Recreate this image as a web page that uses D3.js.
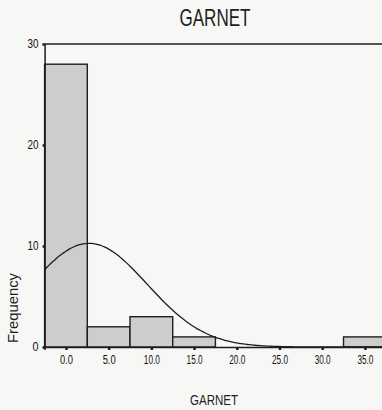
<!DOCTYPE html>
<html><head><meta charset="utf-8">
<script src="https://cdn.jsdelivr.net/npm/d3@7"></script>
<style>html,body{margin:0;padding:0;background:#f7f7f5;overflow:hidden}</style>
</head><body>
<svg id="c" width="382" height="410"></svg>
<script>
const binCenters = [0, 5, 10, 15, 20, 25, 30, 35];
const binCounts  = [28, 2, 3, 1, 0, 0, 0, 1];
const binWidth = 5;
const xTicks = [0, 5, 10, 15, 20, 25, 30, 35];
const yTicks = [0, 10, 20, 30];
const fitMean = 2.7;
const fitSd = 6.8;
const title = "GARNET";
const xLabel = "GARNET";
const yLabel = "Frequency";

const svg = d3.select("#c");
const x = d3.scaleLinear().domain([-2.5, 40]).range([44.6, 407.6]);
const y = d3.scaleLinear().domain([0, 30]).range([347, 44]);
const ink = "#1e1e1e";
const font = "'Liberation Sans', Arial, sans-serif";

// bars
svg.append("g").selectAll("rect").data(binCenters.map((c,i)=>({c, n: binCounts[i]})).filter(d=>d.n>0))
  .join("rect")
  .attr("x", d => x(d.c - binWidth/2))
  .attr("width", d => x(d.c + binWidth/2) - x(d.c - binWidth/2))
  .attr("y", d => y(d.n))
  .attr("height", d => y(0) - y(d.n))
  .attr("fill", "#cdcdcb").attr("stroke", ink).attr("stroke-width", 1.4);

// fitted normal curve
const N = d3.sum(binCounts);
const pdf = v => N * binWidth / (fitSd * Math.sqrt(2*Math.PI)) * Math.exp(-((v-fitMean)**2)/(2*fitSd*fitSd));
const xs = d3.range(-2.5, 40.01, 0.25);
svg.append("path").datum(xs)
  .attr("d", d3.line().x(v => x(v)).y(v => y(pdf(v))).curve(d3.curveBasis))
  .attr("fill", "none").attr("stroke", ink).attr("stroke-width", 1.3);

// frame: top line, left axis, bottom axis
svg.append("line").attr("x1", x(-2.5)).attr("x2", 382).attr("y1", y(30)).attr("y2", y(30))
  .attr("stroke", ink).attr("stroke-width", 1.5);

const yAxis = d3.axisLeft(y).tickValues(yTicks).tickFormat(d3.format("d")).tickSize(2).tickPadding(4);
const gy = svg.append("g").attr("transform", `translate(${x(-2.5)},0)`).call(yAxis);
gy.select(".domain").attr("stroke", ink).attr("stroke-width", 1.5);
gy.selectAll(".tick line").attr("stroke", ink).attr("stroke-width", 2.5);
gy.selectAll("text").attr("font-family", font).attr("font-size", 12).attr("fill", "#111")
  .attr("textLength", d => d === 0 ? 6 : 11).attr("lengthAdjust", "spacingAndGlyphs");

const xAxis = d3.axisBottom(x).tickValues(xTicks).tickFormat(d3.format(".1f")).tickSize(3).tickPadding(5);
const gx = svg.append("g").attr("transform", `translate(0,${y(0)})`).call(xAxis);
gx.select(".domain").attr("stroke", ink).attr("stroke-width", 1.5);
gx.selectAll(".tick line").attr("stroke", ink).attr("stroke-width", 2.5);
gx.selectAll("text").attr("font-family", font).attr("font-size", 12.5).attr("fill", "#111")
  .attr("textLength", d => d >= 10 ? 16 : 13).attr("lengthAdjust", "spacingAndGlyphs");

// title & labels
svg.append("text").attr("x", 215).attr("y", 26).attr("text-anchor", "middle")
  .attr("font-family", font).attr("font-size", 24).attr("fill", ink)
  .attr("textLength", 71).attr("lengthAdjust", "spacingAndGlyphs").text(title);
svg.append("text").attr("x", 214).attr("y", 405).attr("text-anchor", "middle")
  .attr("font-family", font).attr("font-size", 15).attr("fill", ink)
  .attr("textLength", 48).attr("lengthAdjust", "spacingAndGlyphs").text(xLabel);
svg.append("text").attr("transform", "translate(18,308) rotate(-90)").attr("text-anchor", "middle")
  .attr("font-family", font).attr("font-size", 15).attr("fill", ink)
  .attr("textLength", 70).attr("lengthAdjust", "spacingAndGlyphs").text(yLabel);
</script>
</body></html>
